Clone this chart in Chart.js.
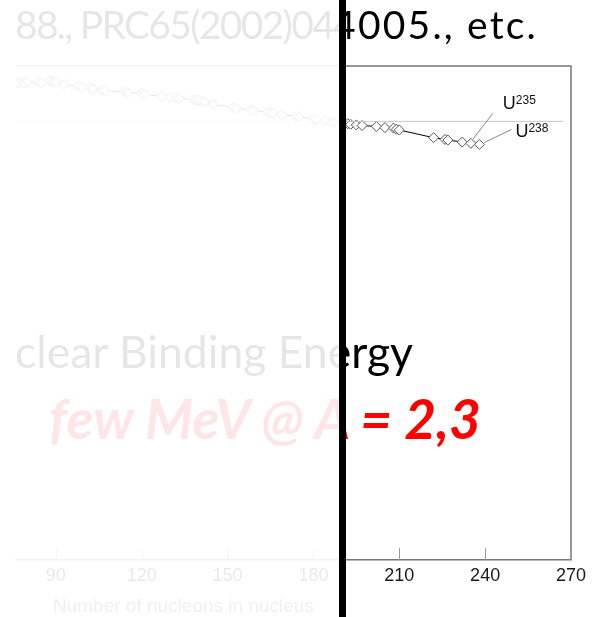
<!DOCTYPE html>
<html>
<head>
<meta charset="utf-8">
<script src="https://cdn.jsdelivr.net/npm/chart.js@4/dist/chart.umd.min.js"></script>
<style>
  html, body { margin: 0; padding: 0; background: #fff; }
  #slide { position: relative; width: 597px; height: 617px; overflow: hidden; background: #fff; }
  #chartBox { position: absolute; left: 0; top: 0; width: 597px; height: 617px; }
  .txt { position: absolute; white-space: nowrap; line-height: 1; font-family: Lato, "Open Sans", sans-serif; }
  #refs { left: 15px; top: 5px; font-size: 39px; color: #000; }
  #refs .a { letter-spacing: -1.7px; }
  #refs .b { letter-spacing: 2.2px; }
  #heading { left: 15px; top: 329px; font-size: 44.5px; color: #000; }
  #note { left: 49px; top: 391px; font-size: 55px; color: #ff0000; font-weight: bold; font-style: italic; }
  #veil { position: absolute; left: 0; top: 0; width: 339px; height: 617px; background: rgba(255,255,255,0.9); }
  #bar { position: absolute; left: 339px; top: 0; width: 7px; height: 617px; background: #000; }
</style>
</head>
<body>
<div id="slide">
  <div id="chartBox"><canvas id="be"></canvas></div>
  <div class="txt" id="refs"><span class="a">88., PRC65(2002)04</span><span class="b">4005., etc.</span></div>
  <div class="txt" id="heading">clear Binding Energy</div>
  <div class="txt" id="note">few MeV @ A = 2,3</div>
  <div id="veil"></div>
  <div id="bar"></div>
</div>
<script>
// Mass number A of common isotopes
const massNumbers = [77, 79, 80, 84, 85, 88, 89, 90, 93, 98, 99, 102, 103, 106, 107, 114, 115, 120, 121,
  127, 130, 132, 133, 138, 139, 140, 141, 142, 145, 152, 153, 158, 159, 164, 165, 166, 169, 174, 175,
  180, 181, 184, 187, 192, 193, 195, 197, 202, 205, 208, 209, 210, 222, 226, 227, 232, 235, 238];
// Binding energy per nucleon (MeV)
const bindingPerNucleon = [8.695, 8.688, 8.711, 8.717, 8.697, 8.733, 8.714, 8.710, 8.664, 8.635, 8.614,
  8.607, 8.584, 8.560, 8.554, 8.532, 8.517, 8.505, 8.482, 8.445, 8.430, 8.428, 8.410, 8.393, 8.378,
  8.376, 8.354, 8.346, 8.303, 8.244, 8.229, 8.202, 8.189, 8.159, 8.147, 8.142, 8.115, 8.084, 8.069,
  8.035, 8.023, 8.005, 7.978, 7.948, 7.938, 7.927, 7.916, 7.897, 7.878, 7.868, 7.848, 7.834, 7.694,
  7.662, 7.651, 7.615, 7.591, 7.570];
// x-axis tick labels
const xTickValues = [90, 120, 150, 180, 210, 240, 270];
// uranium isotope callouts
const calloutNames = ['U', 'U'];
const calloutMasses = [235, 238];
const calloutSuperscripts = ['235', '238'];
// horizontal reference level (MeV)
const referenceLevel = 8;

const points = massNumbers.map((a, i) => ({ x: a, y: bindingPerNucleon[i] }));

const framePlugin = {
  id: 'frame',
  afterDraw(chart) {
    const { ctx, chartArea: ca, scales: { x, y } } = chart;
    ctx.save();
    // reference line
    const yr = y.getPixelForValue(referenceLevel);
    ctx.strokeStyle = '#c8c8c8';
    ctx.lineWidth = 1;
    ctx.beginPath();
    ctx.moveTo(ca.left, yr + 0.5);
    ctx.lineTo(ca.right - 8, yr + 0.5);
    ctx.stroke();
    // top and right border of the plot box
    ctx.strokeStyle = '#777';
    ctx.lineWidth = 1.5;
    ctx.beginPath();
    ctx.moveTo(ca.left, ca.top);
    ctx.lineTo(ca.right, ca.top);
    ctx.lineTo(ca.right, ca.bottom);
    ctx.stroke();
    // inward tick marks
    ctx.strokeStyle = '#999';
    ctx.lineWidth = 1;
    xTickValues.forEach(v => {
      const px = Math.round(x.getPixelForValue(v)) + 0.5;
      ctx.beginPath();
      ctx.moveTo(px, ca.bottom - 12);
      ctx.lineTo(px, ca.bottom);
      ctx.stroke();
    });
    // axis title
    ctx.fillStyle = '#666';
    ctx.font = '19px "Liberation Sans", Arial, sans-serif';
    ctx.textBaseline = 'alphabetic';
    ctx.textAlign = 'left';
    ctx.fillText('Number of nucleons in nucleus', 53, 612);
    // uranium callouts
    const meta = chart.getDatasetMeta(0);
    const offsets = [
      { tx: 32, ty: -34, sx: 22, sy: -30, ex: 2, ey: -4 },
      { tx: 36, ty: -7, sx: 32, sy: -15, ex: 5, ey: -2 }
    ];
    calloutMasses.forEach((a, k) => {
      const idx = massNumbers.indexOf(a);
      const el = meta.data[idx];
      const o = offsets[k];
      ctx.strokeStyle = '#888';
      ctx.lineWidth = 1;
      ctx.beginPath();
      ctx.moveTo(el.x + o.sx, el.y + o.sy);
      ctx.lineTo(el.x + o.ex, el.y + o.ey);
      ctx.stroke();
      ctx.fillStyle = '#111';
      ctx.font = '18px "Liberation Sans", Arial, sans-serif';
      const tx = el.x + o.tx, ty = el.y + o.ty;
      ctx.fillText(calloutNames[k], tx, ty);
      const w = ctx.measureText(calloutNames[k]).width;
      ctx.font = '12px "Liberation Sans", Arial, sans-serif';
      ctx.fillText(calloutSuperscripts[k], tx + w, ty - 5);
    });
    ctx.restore();
  }
};

new Chart(document.getElementById('be'), {
  type: 'line',
  data: {
    datasets: [{
      data: points,
      borderColor: '#000',
      borderWidth: 1,
      pointStyle: 'rectRot',
      pointRadius: 5,
      pointBorderWidth: 1,
      pointBorderColor: '#555',
      pointBackgroundColor: '#fff',
      tension: 0
    }]
  },
  options: {
    responsive: true,
    maintainAspectRatio: false,
    animation: false,
    events: [],
    layout: { padding: { left: 16, right: 26, top: 66, bottom: 0 } },
    plugins: { legend: { display: false }, tooltip: { enabled: false } },
    scales: {
      x: {
        type: 'linear',
        min: 76.1,
        max: 270,
        afterBuildTicks: s => { s.ticks = xTickValues.map(v => ({ value: v })); },
        afterFit: s => { s.height = 57; },
        grid: { display: true, drawOnChartArea: false, drawTicks: false },
        border: { display: true, color: '#777', width: 1.5 },
        ticks: {
          padding: 5,
          maxRotation: 0,
          color: '#1a1a1a',
          font: { family: '"Liberation Sans", Arial, sans-serif', size: 18 }
        }
      },
      y: {
        type: 'linear',
        min: 0,
        max: 9,
        display: false
      }
    }
  },
  plugins: [framePlugin]
});
</script>
</body>
</html>
